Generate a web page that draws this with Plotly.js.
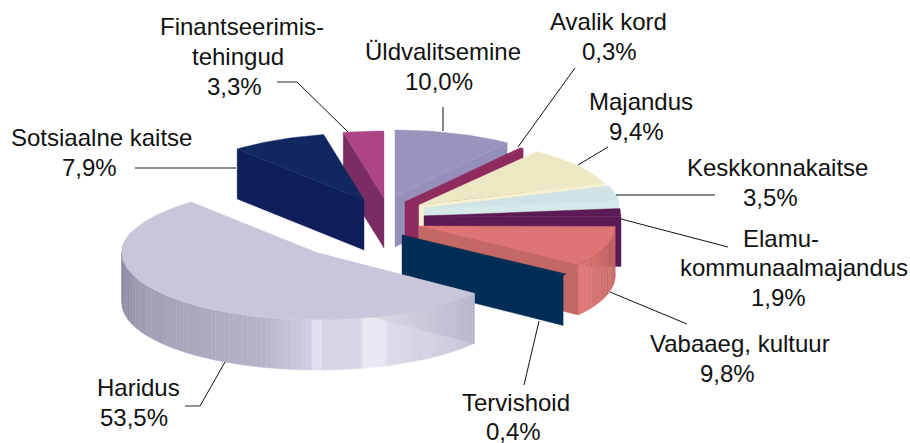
<!DOCTYPE html>
<html><head><meta charset="utf-8">
<script src="https://cdn.plot.ly/plotly-3.0.0.min.js"></script>
<style>html,body{margin:0;padding:0;background:#fff}#c{width:910px;height:443px}</style>
</head><body><div id="c"></div>
<script>
const categories = ["Üldvalitsemine","Avalik kord","Majandus","Keskkonnakaitse","Elamu-kommunaalmajandus","Vabaaeg, kultuur","Tervishoid","Haridus","Sotsiaalne kaitse","Finantseerimistehingud"];
const shares = [10.0,0.3,9.4,3.5,1.9,9.8,0.4,53.5,7.9,3.3];
const labelLines = ["Üldvalitsemine","10,0%","Avalik kord","0,3%","Majandus","9,4%","Keskkonnakaitse","3,5%","Elamu-","kommunaalmajandus","1,9%","Vabaaeg, kultuur","9,8%","Tervishoid","0,4%","Haridus","53,5%","Sotsiaalne kaitse","7,9%","Finantseerimis-","tehingud","3,3%"];
const labelX = [442.5,439,608,609,641,636,777.5,770,781,793.5,778.5,740,727.7,515.5,513,138,134,101,89.5,241.7,237.5,234.5];
const labelY = [51,81,21,51,101,131,167,197,238,267,297,343,373,402,431,387,417,137,167,26,56,86];
const topColors = ["#9B95BD","#8F2A5E","#EDE8C4","#CFE2E6","#5C1B54","#DD7574","#002D56","#C9C6DC","#10275F","#AC4485"];
const faceColors = ["#9590B9","#8F2A5E","#F6F1CE","#D5E8EA","#5C1B54","#C46866","#002D56","#C9C6DC","#0F1F5C","#7A2D62"];
const apexX = [395,405,419,424,424,419,402,318,364,384];
const apexY = [197,202,205,208,216,226,235,253,200,198];
const radiusX = [191,196,196,196,197,196,202,196,196,198];
const radiusY = 67, depth = 50;
const drawOrder = [0,1,2,3,4,5,6,9,8,7];
const leaders = [[443,107,443,131],[575,68,518,147],[608,147,578,165],[715,195,616,195],[728,247,621,219],[687,324,610,292],[524,385,539,321],[185,406,200,406],[200,406,225,362],[135,168,236,168],[277,82,297,82],[297,82,348,132]];
const leaderGrey = [9,10,7];
const haridusWallStops = [[125,"#C4C1D6"],[160,"#DEDCEA"],[160.1,"#E9E7F2"],[167,"#E9E7F2"],[167.1,"#D9D6E7"],[179,"#D5D3E4"],[179.1,"#E1DFED"],[182.4,"#E1DFED"],[182.5,"#D0CEE0"],[188,"#C6C3DA"],[197,"#B6B3C9"],[218,"#AAA7BE"],[241,"#A09DB4"],[262,"#8E8BA5"],[290,"#9A97B0"]];
const vabaaegWallStops = [[90,"#C46866"],[108,"#CB6C6A"],[125.8,"#E27B79"]];
const haridusFaceStops = [[0,"#D8D6E3"],[1,"#B9B6CC"]];

const traces = [];
const rad = d => d*Math.PI/180;
function hex(c){return [1,3,5].map(k=>parseInt(c.slice(k,k+2),16));}
function ramp(stops,t){
  if(t<=stops[0][0])return stops[0][1];
  for(let k=1;k<stops.length;k++){
    if(t<=stops[k][0]){
      const a=stops[k-1],b=stops[k],f=(t-a[0])/(b[0]-a[0]),p=hex(a[1]),q=hex(b[1]);
      return "rgb("+p.map((v,j)=>Math.round(v+(q[j]-v)*f)).join(",")+")";
    }
  }
  return stops[stops.length-1][1];
}
function poly(xs,ys,color){
  traces.push({type:"scatter",mode:"lines",x:xs,y:ys,fill:"toself",fillcolor:color,line:{color:color,width:0.4},hoverinfo:"skip",showlegend:false});
}
const starts=[];let acc=0;shares.forEach(s=>{starts.push(acc);acc+=s;});
const angle=v=>v*3.6;
function rim(i,t){return [apexX[i]+radiusX[i]*Math.sin(rad(t)),apexY[i]-radiusY*Math.cos(rad(t))];}
function wall(i,a,b,stops,n){
  for(let k=0;k<n;k++){
    const t0=a+(b-a)*k/n,t1=a+(b-a)*(k+1)/n,p=rim(i,t0),q=rim(i,t1);
    poly([p[0],q[0],q[0],p[0],p[0]],[p[1],q[1],q[1]+depth,p[1]+depth,p[1]],ramp(stops,(t0+t1)/2));
  }
}
drawOrder.forEach(i=>{
  const a=angle(starts[i]),b=angle(starts[i]+shares[i]);
  const vis0=Math.max(a,90),vis1=Math.min(b,270);
  if(i===7){ wall(i,a,290,haridusWallStops,110); }
  else if(i===5){ wall(i,vis0,vis1,vabaaegWallStops,24); }
  const edge=(i>=7)?a:b, r=rim(i,edge);
  if(i===7){
    const n=24;
    for(let k=0;k<n;k++){
      const f0=k/n,f1=(k+1)/n;
      const x0=apexX[i]+(r[0]-apexX[i])*f0,x1=apexX[i]+(r[0]-apexX[i])*f1;
      const y0=apexY[i]+(r[1]-apexY[i])*f0,y1=apexY[i]+(r[1]-apexY[i])*f1;
      poly([x0,x1,x1,x0,x0],[y0,y1,y1+depth,y0+depth,y0],ramp(haridusFaceStops,(f0-0.4)/0.6));
    }
  } else {
    poly([apexX[i],r[0],r[0],apexX[i],apexX[i]],[apexY[i],r[1],r[1]+depth,apexY[i]+depth,apexY[i]],faceColors[i]);
  }
  const xs=[apexX[i]],ys=[apexY[i]];
  const steps=Math.max(2,Math.ceil((b-a)/1.5));
  for(let k=0;k<=steps;k++){const p=rim(i,a+(b-a)*k/steps);xs.push(p[0]);ys.push(p[1]);}
  xs.push(apexX[i]);ys.push(apexY[i]);
  poly(xs,ys,topColors[i]);
});
const shapes=leaders.map((l,k)=>({type:"line",xref:"x",yref:"y",x0:l[0],y0:l[1],x1:l[2],y1:l[3],line:{color:leaderGrey.includes(k)?"#666666":"#111111",width:leaderGrey.includes(k)?1.4:1}}));
const annotations=labelLines.map((c,i)=>({xref:"x",yref:"y",x:labelX[i],y:labelY[i],text:c,showarrow:false,align:"center",xanchor:"center",yanchor:"middle",font:{family:"Liberation Sans, Arial, sans-serif",size:24,color:"#111111"}}));
const ax={visible:false,fixedrange:true,showgrid:false,zeroline:false};
Plotly.newPlot("c",traces,{
  width:910,height:443,margin:{l:0,r:0,t:0,b:0},paper_bgcolor:"#fff",plot_bgcolor:"#fff",showlegend:false,
  xaxis:Object.assign({range:[0,910]},ax),yaxis:Object.assign({range:[443,0]},ax),
  shapes,annotations
},{displayModeBar:false,staticPlot:true});
</script></body></html>
